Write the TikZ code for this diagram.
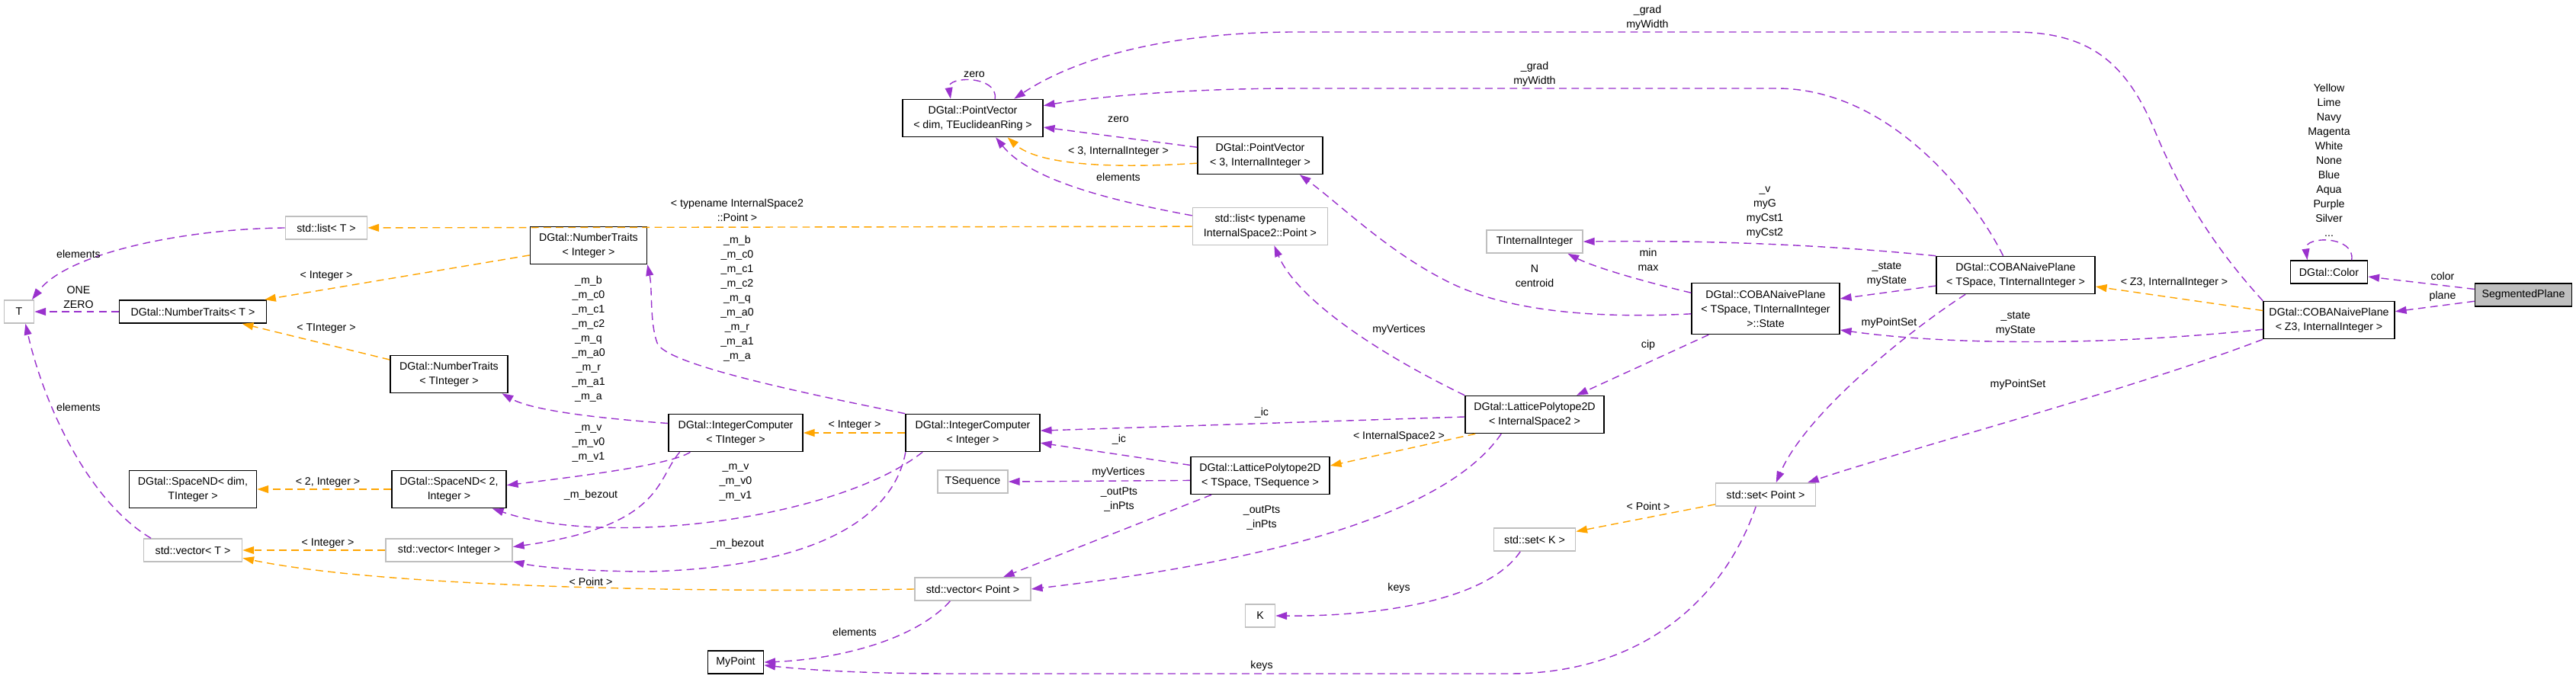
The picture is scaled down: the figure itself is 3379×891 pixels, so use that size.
\documentclass[tikz,border=0pt]{standalone}
\usepackage{fontspec}
\setmainfont{Liberation Sans}
\usetikzlibrary{arrows.meta}
\definecolor{edgepurple}{HTML}{9A32CD}
\definecolor{edgeorange}{HTML}{FFA500}
\definecolor{boxgray}{HTML}{BFBFBF}

\begin{document}
\begin{tikzpicture}[x=0.025cm,y=-0.025cm,
  font=\fontsize{10.1}{13.5}\selectfont,
  box/.style={rectangle,inner sep=0pt,align=center,line width=1.1pt},
  cls/.style={box,draw=black},
  ext/.style={box,draw=boxgray},
  oneline/.style={minimum height=0.75cm},
  twoline/.style={minimum height=1.225cm},
  threeline/.style={minimum height=1.675cm},
  memb/.style={draw=edgepurple,line width=1pt,dash pattern=on 7pt off 4.5pt,
    -{Triangle[length=10.5pt,width=7pt]}},
  tmpl/.style={memb,draw=edgeorange},
  lbl/.style={align=center,inner sep=0pt}]
\useasboundingbox (0,0) rectangle (3379,891);

% classes
\node[cls,twoline,minimum width=4.6cm] (pvdim) at (1276,155) {DGtal::PointVector\\< dim, TEuclideanRing >};
\node[cls,twoline,minimum width=4.1cm] (pvthree) at (1653,204) {DGtal::PointVector\\< 3, InternalInteger >};
\node[ext,oneline,minimum width=2.675cm] (listT) at (428,299) {std::list< T >};
\node[ext,oneline,minimum width=0.975cm] (tparam) at (25,409) {T};
\node[cls,oneline,minimum width=4.825cm] (ntT) at (253,409) {DGtal::NumberTraits< T >};
\node[cls,twoline,minimum width=3.825cm] (ntInt) at (772,322) {DGtal::NumberTraits\\< Integer >};
\node[cls,twoline,minimum width=3.85cm] (ntTInt) at (589,491) {DGtal::NumberTraits\\< TInteger >};
\node[cls,twoline,minimum width=4.4cm] (icT) at (965,568) {DGtal::IntegerComputer\\< TInteger >};
\node[cls,twoline,minimum width=4.4cm] (icInt) at (1276,568) {DGtal::IntegerComputer\\< Integer >};
\node[ext,twoline,minimum width=4.425cm] (listPt) at (1653,297) {std::list< typename\\InternalSpace2::Point >};
\node[ext,oneline,minimum width=3.15cm] (tii) at (2013,317) {TInternalInteger};
\node[cls,threeline,minimum width=4.85cm] (state) at (2316,405) {DGtal::COBANaivePlane\\< TSpace, TInternalInteger\\ >::State};
\node[cls,twoline,minimum width=4.55cm] (lpIS) at (2013,544) {DGtal::LatticePolytope2D\\< InternalSpace2 >};
\node[cls,twoline,minimum width=5.2cm] (cobaT) at (2644,361) {DGtal::COBANaivePlane\\< TSpace, TInternalInteger >};
\node[cls,oneline,minimum width=2.525cm] (colorcls) at (3055,357) {DGtal::Color};
\node[cls,oneline,minimum width=3.175cm,fill=boxgray] (seg) at (3310,387) {SegmentedPlane};
\node[cls,twoline,minimum width=4.3cm] (cobaZ) at (3055,420) {DGtal::COBANaivePlane\\< Z3, InternalInteger >};
\node[cls,twoline,minimum width=4.175cm] (spDim) at (253,642) {DGtal::SpaceND< dim,\\TInteger >};
\node[cls,twoline,minimum width=3.75cm] (spTwo) at (589,642) {DGtal::SpaceND< 2,\\Integer >};
\node[ext,oneline,minimum width=3.225cm] (vecT) at (253,722) {std::vector< T >};
\node[ext,oneline,minimum width=4.15cm] (vecInt) at (589,722) {std::vector< Integer >};
\node[ext,oneline,minimum width=2.3cm] (tseq) at (1276,632) {TSequence};
\node[cls,twoline,minimum width=4.55cm] (lpTS) at (1653,624) {DGtal::LatticePolytope2D\\< TSpace, TSequence >};
\node[ext,oneline,minimum width=3.8cm] (vecPt) at (1276,773) {std::vector< Point >};
\node[cls,oneline,minimum width=1.825cm] (mypoint) at (965,869) {MyPoint};
\node[ext,oneline,minimum width=0.975cm] (kparam) at (1653,808) {K};
\node[ext,oneline,minimum width=3.275cm] (setPt) at (2316,649) {std::set< Point >};
\node[ext,oneline,minimum width=2.675cm] (setK) at (2013,708) {std::set< K >};

% members
\draw[memb] (seg) -- (colorcls);
\draw[memb] (seg) -- (cobaZ);
\draw[memb] (colorcls.28) .. controls (3090,309) and (3022,309) .. (colorcls.151);
\draw[memb] (pvdim.41) .. controls (1310,99) and (1242,99) .. (pvdim.139);
\draw[memb] (cobaZ.north west) .. controls (2900,320) and (2860,250) .. (2830,180)
  .. controls (2790,80) and (2740,42) .. (2640,42) -- (1700,42)
  .. controls (1550,42) and (1420,70) .. (pvdim.25);
\draw[memb] (cobaT.123) .. controls (2590,260) and (2480,116) .. (2330,116) -- (1700,116)
  .. controls (1550,116) and (1430,128) .. (pvdim.10);
\draw[memb] (listPt.171) .. controls (1450,262) and (1350,235) .. (pvdim.-40);
\draw[memb] (pvthree) -- (pvdim);
\draw[memb] (cobaT.north west) .. controls (2400,322) and (2250,315) .. (tii.east);
\draw[memb] (state.168) .. controls (2150,368) and (2090,350) .. (tii.-20);
\draw[memb] (state.184) .. controls (2100,418) and (1980,410) .. (1900,370)
  .. controls (1820,330) and (1760,270) .. (pvthree.-26);
\draw[memb] (state) -- (lpIS);
\draw[memb] (cobaT) -- (state);
\draw[memb] (cobaZ.188) .. controls (2750,455) and (2550,452) .. (state.-16);
\draw[memb] (cobaT.201) .. controls (2510,430) and (2370,540) .. (setPt.49);
\draw[memb] (cobaZ.south west) .. controls (2800,510) and (2500,590) .. (setPt.16);
\draw[memb] (lpIS) -- (icInt);
\draw[memb] (lpTS) -- (icInt);
\draw[memb] (lpIS.north west) .. controls (1800,460) and (1700,390) .. (listPt.-54);
\draw[memb] (lpIS.210) .. controls (1880,700) and (1550,750) .. (vecPt.east);
\draw[memb] (lpTS.184) -- (tseq.east);
\draw[memb] (lpTS) -- (vecPt);
\draw[memb] (vecPt.208) .. controls (1200,840) and (1100,865) .. (mypoint.east);
\draw[memb] (setPt.231) .. controls (2260,790) and (2150,884) .. (1980,884) -- (1250,884)
  .. controls (1120,884) and (1050,878) .. (mypoint.-6);
\draw[memb] (setK.220) .. controls (1950,790) and (1800,809) .. (kparam.east);
\draw[memb] (ntT) -- (tparam);
\draw[memb] (listT.west) .. controls (250,300) and (90,330) .. (tparam.43);
\draw[memb] (vecT.164) .. controls (120,660) and (60,540) .. (tparam.-62);
\draw[memb] (icInt.north west) .. controls (1050,515) and (872,478) .. (862,450)
  .. controls (852,422) and (856,380) .. (ntInt.-18);
\draw[memb] (icT.172) .. controls (800,550) and (700,540) .. (ntTInt.-20);
\draw[memb] (icT.203) .. controls (880,610) and (760,625) .. (spTwo.4);
\draw[memb] (icT.199) .. controls (860,630) and (870,690) .. (vecInt.3);
\draw[memb] (icInt.201) .. controls (1100,680) and (800,720) .. (spTwo.-24);
\draw[memb] (icInt.196) .. controls (1170,690) and (1050,745) .. (850,750)
  .. controls (780,750) and (710,745) .. (vecInt.-10);

% templates
\draw[tmpl] (icInt) -- (icT);
\draw[tmpl] (ntInt) -- (ntT);
\draw[tmpl] (ntTInt) -- (ntT);
\draw[tmpl] (spTwo) -- (spDim);
\draw[tmpl] (vecInt) -- (vecT);
\draw[tmpl] (vecPt.west) .. controls (900,778) and (500,770) .. (vecT.-9);
\draw[tmpl] (listPt) -- (listT);
\draw[tmpl] (pvthree.187) .. controls (1450,222) and (1360,215) .. (pvdim.-29);
\draw[tmpl] (lpIS.198) -- (lpTS.8);
\draw[tmpl] (setPt) -- (setK);
\draw[tmpl] (cobaZ) -- (cobaT);

% labels
\node[lbl] (lColor) at (3204,362) {color};
\node[lbl] (lPlane) at (3204,389) {plane};
\node[lbl] (lColors) at (3055,210) {Yellow\\Lime\\Navy\\Magenta\\White\\None\\Blue\\Aqua\\Purple\\Silver\\...};
\node[lbl] (lGradTop) at (2161,23) {\_grad\\myWidth};
\node[lbl] (lGrad) at (2013,97) {\_grad\\myWidth};
\node[lbl] (lZeroSelf) at (1278,98) {zero};
\node[lbl] (lZero) at (1467,157) {zero};
\node[lbl] (lPvThree) at (1467,199) {< 3, InternalInteger >};
\node[lbl] (lElemPv) at (1467,232) {elements};
\node[lbl] (lListPt) at (967,276) {< typename InternalSpace2\\::Point >};
\node[lbl] (lCst) at (2315,279) {\_v\\myG\\myCst1\\myCst2};
\node[lbl] (lMinMax) at (2162,341) {min\\max};
\node[lbl] (lCentroid) at (2013,362) {N\\centroid};
\node[lbl] (lStateT) at (2475,360) {\_state\\myState};
\node[lbl] (lZThree) at (2852,371) {< Z3, InternalInteger >};
\node[lbl] (lPointSetT) at (2478,424) {myPointSet};
\node[lbl] (lStateZ) at (2644,425) {\_state\\myState};
\node[lbl] (lCip) at (2162,453) {cip};
\node[lbl] (lPointSetZ) at (2647,505) {myPointSet};
\node[lbl] (lVertIS) at (1835,433) {myVertices};
\node[lbl] (lIcIS) at (1655,542) {\_ic};
\node[lbl] (lIcTS) at (1468,577) {\_ic};
\node[lbl] (lSpaceTwo) at (1835,573) {< InternalSpace2 >};
\node[lbl] (lVertTS) at (1467,620) {myVertices};
\node[lbl] (lOutTS) at (1468,656) {\_outPts\\\_inPts};
\node[lbl] (lOutIS) at (1655,680) {\_outPts\\\_inPts};
\node[lbl] (lSetPt) at (2162,664) {< Point >};
\node[lbl] (lKeysK) at (1835,772) {keys};
\node[lbl] (lKeysPt) at (1655,874) {keys};
\node[lbl] (lElemMyPt) at (1121,829) {elements};
\node[lbl] (lVecPt) at (775,763) {< Point >};
\node[lbl] (lBezInt) at (967,714) {\_m\_bezout};
\node[lbl] (lMvInt) at (965,633) {\_m\_v\\\_m\_v0\\\_m\_v1};
\node[lbl] (lBezT) at (775,650) {\_m\_bezout};
\node[lbl] (lMvT) at (772,582) {\_m\_v\\\_m\_v0\\\_m\_v1};
\node[lbl] (lIntIc) at (1121,558) {< Integer >};
\node[lbl] (lMbInt) at (967,392) {\_m\_b\\\_m\_c0\\\_m\_c1\\\_m\_c2\\\_m\_q\\\_m\_a0\\\_m\_r\\\_m\_a1\\\_m\_a};
\node[lbl] (lMbT) at (772,445) {\_m\_b\\\_m\_c0\\\_m\_c1\\\_m\_c2\\\_m\_q\\\_m\_a0\\\_m\_r\\\_m\_a1\\\_m\_a};
\node[lbl] (lNtInt) at (428,362) {< Integer >};
\node[lbl] (lNtTInt) at (428,431) {< TInteger >};
\node[lbl] (lSp) at (430,633) {< 2, Integer >};
\node[lbl] (lVecInt) at (430,713) {< Integer >};
\node[lbl] (lOneZero) at (103,390) {ONE\\ZERO};
\node[lbl] (lElemList) at (103,333) {elements};
\node[lbl] (lElemVec) at (103,534) {elements};
\end{tikzpicture}
\end{document}
